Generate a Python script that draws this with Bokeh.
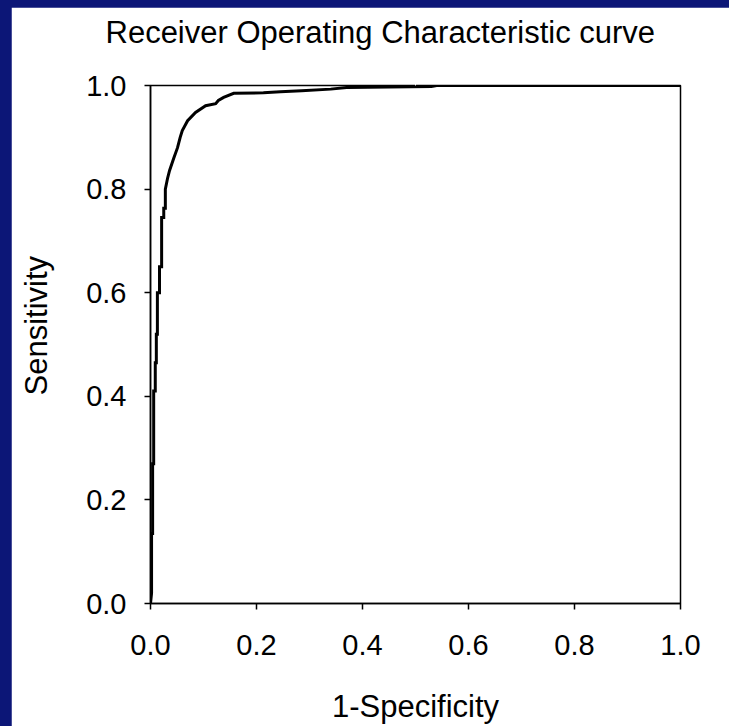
from bokeh.plotting import figure
from bokeh.models import (FixedTicker, PrintfTickFormatter, Range1d, GlobalInlineStyleSheet,
                          Title, LinearAxis)
from bokeh.embed import file_html
from bokeh.resources import INLINE

# ROC curve points
fpr = [0.000, 0.002, 0.002, 0.004, 0.004, 0.006, 0.006, 0.009, 0.009, 0.011, 0.011,
       0.013, 0.013, 0.017, 0.017, 0.021, 0.021, 0.025, 0.025, 0.028, 0.028, 0.032,
       0.036, 0.044, 0.051, 0.056, 0.060, 0.070, 0.085, 0.104, 0.123, 0.128, 0.138,
       0.157, 0.213, 0.245, 0.285, 0.340, 0.370, 0.530, 0.540, 1.000]
tpr = [0.000, 0.020, 0.135, 0.135, 0.270, 0.270, 0.410, 0.410, 0.465, 0.465, 0.520,
       0.520, 0.600, 0.600, 0.650, 0.650, 0.745, 0.745, 0.763, 0.763, 0.800, 0.820,
       0.836, 0.860, 0.880, 0.900, 0.913, 0.932, 0.948, 0.961, 0.965, 0.971, 0.977,
       0.985, 0.986, 0.988, 0.990, 0.993, 0.996, 0.998, 1.000, 1.000]
ticks = [0.0, 0.2, 0.4, 0.6, 0.8, 1.0]
title_text = "Receiver Operating Characteristic curve"
x_label = "1-Specificity"
y_label = "Sensitivity"

FONT = "Liberation Sans"

p = figure(width=718, height=719, output_backend="svg", toolbar_location=None,
           x_range=Range1d(0, 1), y_range=Range1d(0, 1),
           min_border_left=139, min_border_right=49, min_border_top=78, min_border_bottom=123)
p.stylesheets = [GlobalInlineStyleSheet(
    css="html, body { background: #0c1677 !important; } body { padding: 7px 0 0 11px !important; }")]
p.background_fill_color = "white"
p.border_fill_color = "white"
p.outline_line_color = "black"
p.outline_line_width = 1.5
p.grid.visible = False

for ax in (p.xaxis[0], p.yaxis[0]):
    ax.ticker = FixedTicker(ticks=ticks)
    ax.formatter = PrintfTickFormatter(format="%.1f")
    ax.minor_tick_line_color = None
    ax.major_tick_in = 0
    ax.major_tick_out = 6
    ax.major_tick_line_color = "black"
    ax.major_tick_line_width = 1.5
    ax.axis_line_color = "black"
    ax.axis_line_width = 1.5
    ax.major_label_text_font = FONT
    ax.major_label_text_font_size = "29px"
    ax.major_label_text_color = "black"

p.xaxis.major_label_standoff = 25
p.yaxis.major_label_standoff = 18
p.xaxis.axis_label = x_label
p.xaxis.axis_label_text_font = FONT
p.xaxis.axis_label_text_font_size = "31px"
p.xaxis.axis_label_text_font_style = "normal"
p.xaxis.axis_label_text_color = "black"
p.xaxis.axis_label_standoff = 31


def spacer(size):
    # blank axis used only to reserve room between the frame and a title
    return LinearAxis(ticker=FixedTicker(ticks=[0.5]), major_label_overrides={0.5: ""},
                      major_tick_out=size, major_tick_in=0,
                      minor_tick_out=0, minor_tick_in=0, major_label_standoff=0,
                      major_label_text_font_size="1px",
                      axis_line_color=None, major_tick_line_color="white",
                      minor_tick_line_color=None)


title_style = dict(text_font=FONT, text_font_size="31px", text_font_style="normal",
                   text_color="black", standoff=0, vertical_align="bottom", align="left")

p.add_layout(spacer(36), "above")
p.add_layout(Title(text=title_text, offset=-45, **title_style), "above")

p.add_layout(spacer(30), "left")
p.add_layout(Title(text=y_label, offset=208, **title_style), "left")

p.line(fpr, tpr, line_color="black", line_width=3, line_join="miter")

open("out.html", "w").write(file_html(p, INLINE))
